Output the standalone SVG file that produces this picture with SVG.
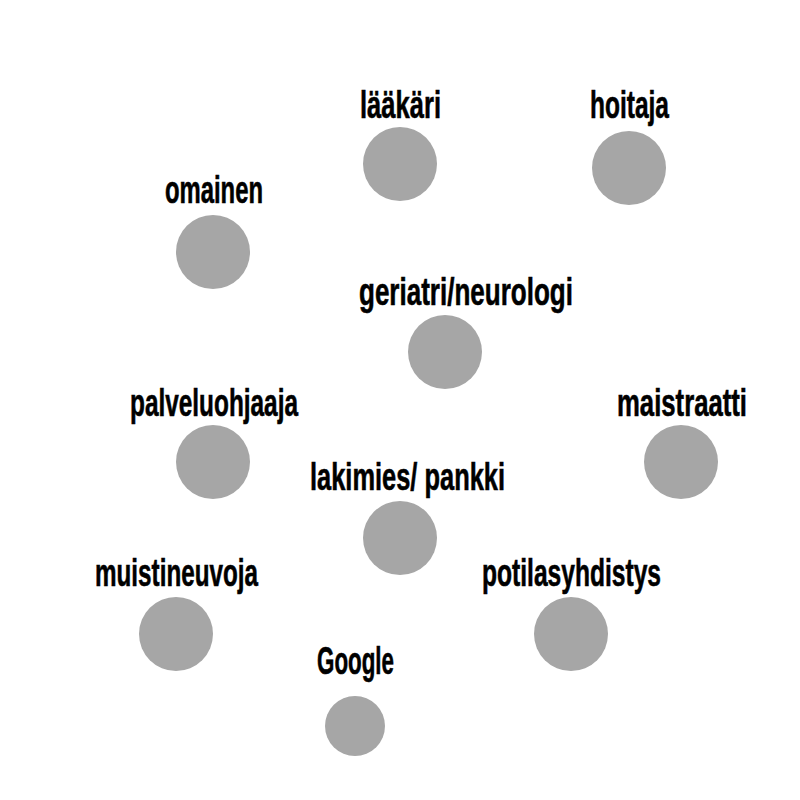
<svg xmlns="http://www.w3.org/2000/svg" width="800" height="800" viewBox="0 0 800 800">
<style>
.n circle{fill:#a6a6a6}
.n text{font-family:"Liberation Sans Narrow","Liberation Sans",Arial,sans-serif;font-weight:bold;font-size:39px;fill:#000;text-anchor:middle;stroke:#000;stroke-width:0.6px}
</style>
<rect width="800" height="800" fill="#fff"/>
<g id="connectors"/>
<g id="laakari" class="n"><text x="400.5" y="118" textLength="81" lengthAdjust="spacingAndGlyphs">lääkäri</text><circle cx="400" cy="164" r="37"/></g>
<g id="hoitaja" class="n"><text x="629.5" y="118" textLength="79" lengthAdjust="spacingAndGlyphs">hoitaja</text><circle cx="629" cy="168" r="37"/></g>
<g id="omainen" class="n"><text x="214" y="203" textLength="98" lengthAdjust="spacingAndGlyphs">omainen</text><circle cx="213" cy="252" r="37"/></g>
<g id="geriatri" class="n"><text x="466" y="305" textLength="214" lengthAdjust="spacingAndGlyphs">geriatri/neurologi</text><circle cx="445" cy="352" r="37"/></g>
<g id="palveluohjaaja" class="n"><text x="214" y="416" textLength="168" lengthAdjust="spacingAndGlyphs">palveluohjaaja</text><circle cx="213" cy="462" r="37"/></g>
<g id="maistraatti" class="n"><text x="682" y="416" textLength="130" lengthAdjust="spacingAndGlyphs">maistraatti</text><circle cx="681" cy="462" r="37"/></g>
<g id="lakimies" class="n"><text x="407.5" y="490" textLength="195" lengthAdjust="spacingAndGlyphs">lakimies/ pankki</text><circle cx="400" cy="538" r="37"/></g>
<g id="muistineuvoja" class="n"><text x="176.5" y="586" textLength="163" lengthAdjust="spacingAndGlyphs">muistineuvoja</text><circle cx="176" cy="634" r="37"/></g>
<g id="potilasyhdistys" class="n"><text x="571.5" y="586" textLength="179" lengthAdjust="spacingAndGlyphs">potilasyhdistys</text><circle cx="571" cy="634" r="37"/></g>
<g id="google" class="n"><text x="355.5" y="674" textLength="77" lengthAdjust="spacingAndGlyphs">Google</text><circle cx="355" cy="726" r="30"/></g>
</svg>
